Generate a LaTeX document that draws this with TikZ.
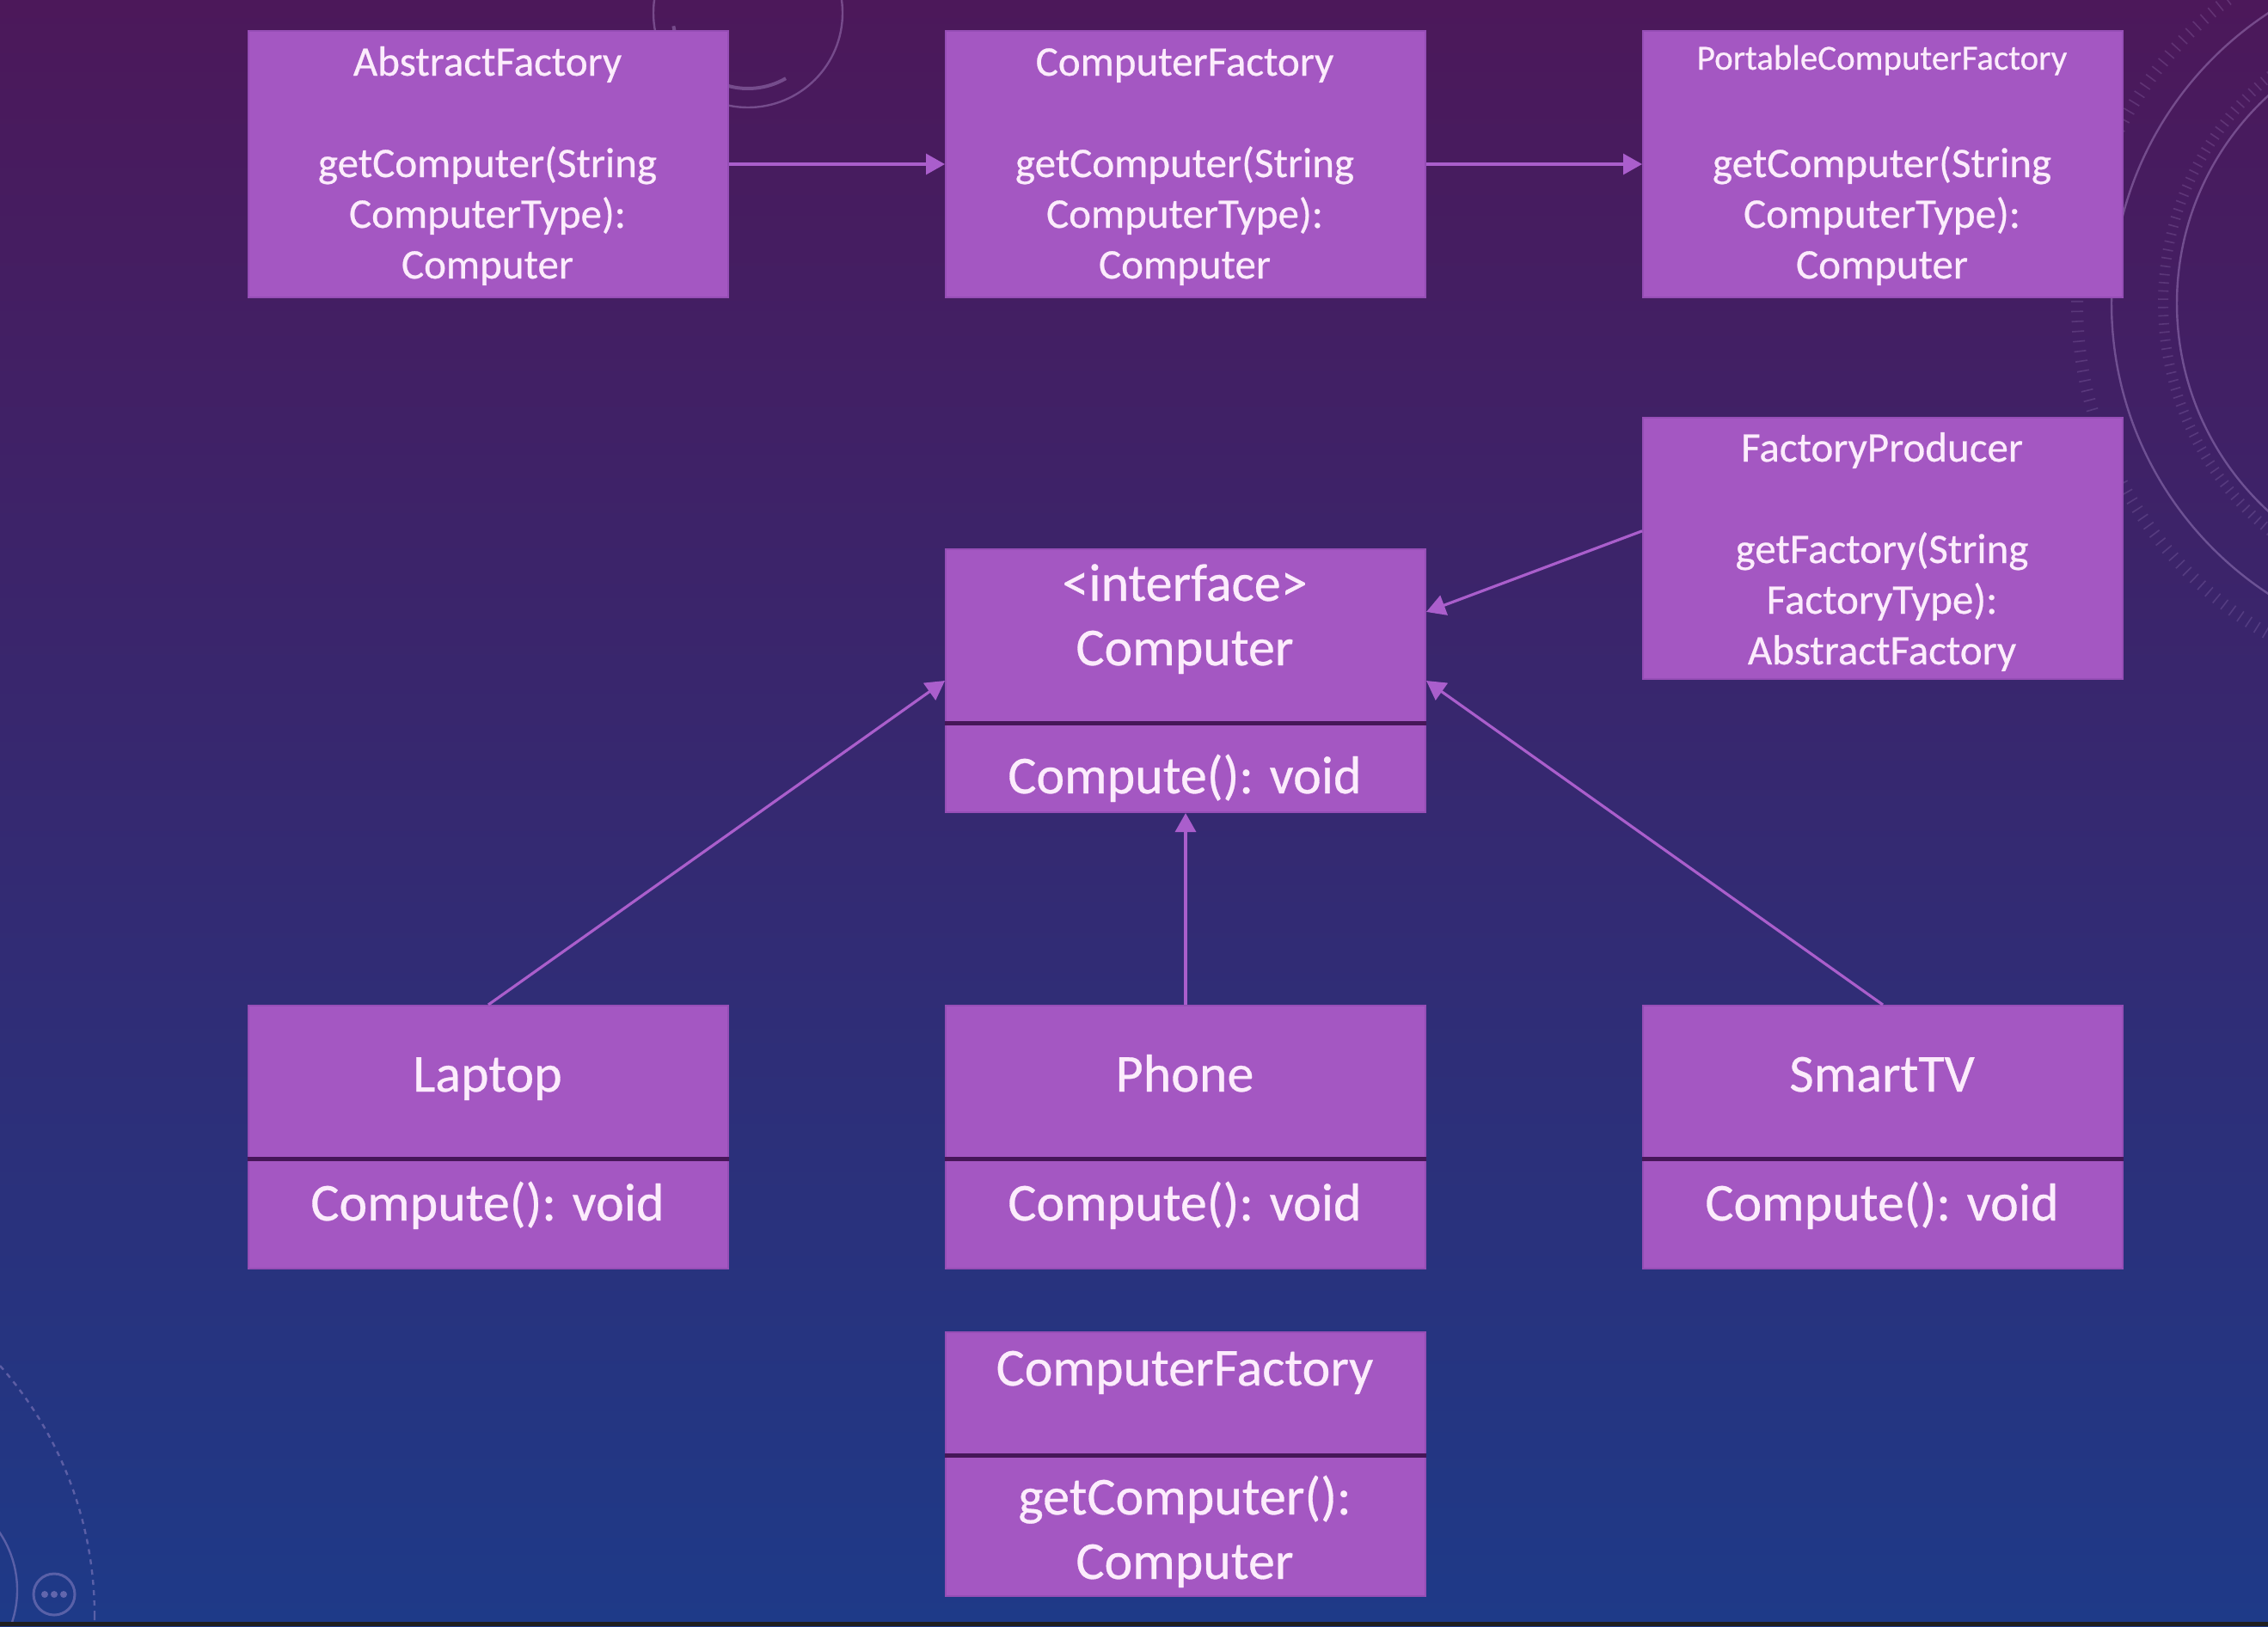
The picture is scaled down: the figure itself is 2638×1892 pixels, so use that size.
\documentclass[tikz,border=0pt]{standalone}
\usepackage{fontspec}
\setmainfont{Carlito}[FakeBold=0.5]
\usetikzlibrary{arrows.meta,calc}
\definecolor{boxfill}{RGB}{164,87,194}
\definecolor{boxedge}{RGB}{150,78,182}
\definecolor{divline}{RGB}{70,22,88}
\definecolor{txt}{RGB}{252,236,252}
\definecolor{arr}{RGB}{170,94,204}
\definecolor{bgtop}{RGB}{76,24,90}
\definecolor{bgmid}{RGB}{58,36,112}
\definecolor{bgbot}{RGB}{30,58,136}
\definecolor{deco}{RGB}{200,170,230}
\newcommand{\mylines}[1]{\begin{tabular}[b]{@{}c@{}}#1\end{tabular}}
\begin{document}
\begin{tikzpicture}[x=0.5pt,y=-0.5pt,
  umlbox/.style={draw=boxedge, line width=1pt, fill=boxfill, minimum width=279pt,
    minimum height=#1, inner sep=0pt, anchor=north west},
  divider/.style={draw=divline, line width=2.5pt},
  label/.style={text=txt, inner sep=0pt, anchor=base},
  small/.style={font=\fontsize{24.5}{29.5}\selectfont},
  big/.style={font=\fontsize{31}{37.5}\selectfont},
  conn/.style={draw=arr, line width=1.6pt, -{Triangle[length=11pt,width=12pt]}},
  decoline/.style={draw=deco, opacity=0.35, line width=1.2pt}]
% background
\useasboundingbox (0,0) rectangle (2638,1892);
\shade[top color=bgtop, middle color=bgmid, bottom color=bgbot] (0,0) rectangle (2638,1892);
% faint decorations
\begin{scope}
\clip (0,0) rectangle (2638,1886);
\draw[decoline] (2860,353) circle[radius=202pt];
\draw[decoline] (2860,353) circle[radius=164pt];
\draw[decoline, line width=7pt, opacity=0.18, dash pattern=on 0.8pt off 5pt] (2860,353) circle[radius=222pt];
\draw[decoline, line width=6pt, opacity=0.18, dash pattern=on 0.8pt off 4pt] (2860,353) circle[radius=172pt];
\draw[decoline] (870,15) circle[radius=55pt];
\draw[decoline, line width=2pt] (870,15) ++(190:44pt) arc[start angle=190, end angle=300, radius=44pt];
\draw[decoline] (-100,1850) circle[radius=60pt];
\draw[decoline, dashed] (-330,1880) circle[radius=220pt];
\draw[decoline, line width=1.5pt] (63,1855) circle[radius=12pt];
\fill[deco, opacity=0.4] (52,1855) circle[radius=2pt] (63,1855) circle[radius=2pt] (74,1855) circle[radius=2pt];
\end{scope}
\fill[black!88] (0,1887) rectangle (2638,1892);
% boxes
\node[umlbox=155pt] (af)  at (288,35) {};
\node[umlbox=155pt] (cfa) at (1099,35) {};
\node[umlbox=155pt] (pcf) at (1910,35) {};
\node[umlbox=152pt] (fp)  at (1910,485) {};
\node[umlbox=153pt] (comp) at (1099,638) {};
\node[umlbox=153pt] (lap) at (288,1169) {};
\node[umlbox=153pt] (phone) at (1099,1169) {};
\node[umlbox=153pt] (tv) at (1910,1169) {};
\node[umlbox=153.5pt] (cfb) at (1099,1549) {};
% dividers
\draw[divider] ($(comp.north west)+(0,203)$) -- ($(comp.north east)+(0,203)$);
\draw[divider] ($(lap.north west)+(0,179)$) -- ($(lap.north east)+(0,179)$);
\draw[divider] ($(phone.north west)+(0,179)$) -- ($(phone.north east)+(0,179)$);
\draw[divider] ($(tv.north west)+(0,179)$) -- ($(tv.north east)+(0,179)$);
\draw[divider] ($(cfb.north west)+(0,144)$) -- ($(cfb.north east)+(0,144)$);
% texts
\node[label, small] (afT) at (567,324) {\mylines{AbstractFactory\\ \\ getComputer(String\\ ComputerType):\\ Computer}};
\node[label, small] (cfaT) at (1378,324) {\mylines{ComputerFactory\\ \\ getComputer(String\\ ComputerType):\\ Computer}};
\node[label, small] (pcfT) at (2189,324) {\mylines{\raisebox{3.5pt}{\fontsize{20.5}{24}\selectfont PortableComputerFactory}\\ \\ getComputer(String\\ ComputerType):\\ Computer}};
\node[label, small] (fpT) at (2189,773) {\mylines{FactoryProducer\\ \\ getFactory(String\\ FactoryType):\\ AbstractFactory}};
\node[label, big] (compT) at (1378,774) {\mylines{<interface>\\ Computer}};
\node[label, big] (compM) at (1378,923) {Compute(): void};
\node[label, big] (lapT) at (567,1270) {Laptop};
\node[label, big] (lapM) at (567,1420) {Compute(): void};
\node[label, big] (phoneT) at (1378,1270) {Phone};
\node[label, big] (phoneM) at (1378,1420) {Compute(): void};
\node[label, big] (tvT) at (2189,1270) {SmartTV};
\node[label, big] (tvM) at (2189,1420) {Compute(): void};
\node[label, big] (cfbT) at (1378,1612) {ComputerFactory};
\node[label, big] (cfbM) at (1378,1837) {\mylines{getComputer():\\ Computer}};
% connectors
\draw[conn] (af.east) -- (cfa.west);
\draw[conn] (cfa.east) -- (pcf.west);
\draw[conn] ($(fp.north west)!0.434!(fp.south west)$) -- ($(comp.north east)!0.24!(comp.south east)$);
\draw[conn] (lap.north) -- (comp.west);
\draw[conn] (phone.north) -- (comp.south);
\draw[conn] (tv.north) -- (comp.east);
\end{tikzpicture}
\end{document}
